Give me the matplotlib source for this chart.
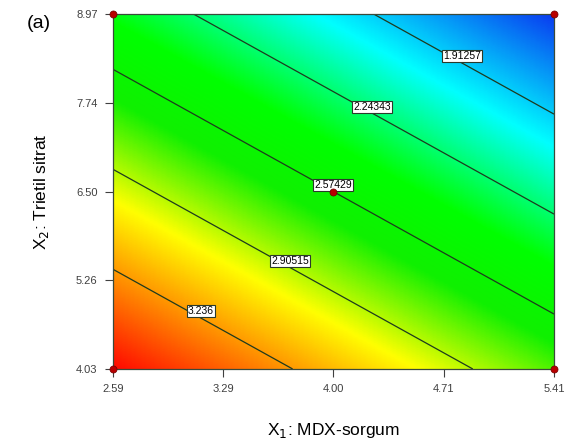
import numpy as np
import matplotlib
matplotlib.use("Agg")
import matplotlib.pyplot as plt
from matplotlib.colors import LinearSegmentedColormap

# factor ranges (actual units)
x1_range = [2.59, 5.41]   # MDX-sorgum
x2_range = [4.03, 8.97]   # Trietil sitrat
x1_ticks = [2.59, 3.295, 4.00, 4.705, 5.41]
x1_ticklabels = ["2.59", "3.29", "4.00", "4.71", "5.41"]
x2_ticks = [4.03, 5.265, 6.50, 7.735, 8.97]
x2_ticklabels = ["4.03", "5.26", "6.50", "7.74", "8.97"]

# linear model in coded units
b0 = 2.574
b1 = -0.405
b2 = -0.587

levels = [1.91257, 2.24343, 2.57429, 2.90515, 3.236]
level_labels = ["1.91257", "2.24343", "2.57429", "2.90515", "3.236"]
# where the labels sit on each line
label_x1 = [4.822, 4.246, 3.997, 3.722, 3.153]
label_x2 = [8.386, 7.676, 6.591, 5.533, 4.837]

# design points
pts_x1 = [2.59, 2.59, 5.41, 5.41, 4.00]
pts_x2 = [4.03, 8.97, 4.03, 8.97, 6.50]


def coded(v, rng):
    mid = (rng[0] + rng[1]) / 2.0
    half = (rng[1] - rng[0]) / 2.0
    return (v - mid) / half


def response(a, b):
    return b0 + b1 * coded(a, x1_range) + b2 * coded(b, x2_range)


cmap = LinearSegmentedColormap.from_list(
    "de", [(0.0, "#0a3cf0"), (0.22, "#00ffff"), (0.42, "#00ff00"), (0.55, "#10f000"),
           (0.72, "#ffff00"), (1.0, "#ff0a00")])

gx = np.linspace(x1_range[0], x1_range[1], 300)
gy = np.linspace(x2_range[0], x2_range[1], 300)
GX, GY = np.meshgrid(gx, gy)
Z = response(GX, GY)

fig = plt.figure(figsize=(5.85, 4.44), dpi=100)
ax = fig.add_axes([0.193, 0.169, 0.754, 0.799])

ax.imshow(Z, origin="lower", extent=[x1_range[0], x1_range[1], x2_range[0], x2_range[1]],
          aspect="auto", cmap=cmap, interpolation="bilinear")
ax.contour(GX, GY, Z, levels=levels, colors="#1e3a1e", linewidths=0.9)

for lx, ly, txt in zip(label_x1, label_x2, level_labels):
    ax.text(lx, ly, txt, fontsize=7.5, ha="center", va="center", family="Liberation Sans",
            color="black", zorder=5,
            bbox=dict(boxstyle="square,pad=0.12", fc="white", ec="#2a3a2a", lw=0.8))

ax.scatter(pts_x1, pts_x2, s=26, color="#b80000", edgecolor="#700000", lw=0.5,
           zorder=6, clip_on=False)

ax.set_xlim(x1_range)
ax.set_ylim(x2_range)
ax.set_xticks(x1_ticks)
ax.set_xticklabels(x1_ticklabels)
ax.set_yticks(x2_ticks)
ax.set_yticklabels(x2_ticklabels)
ax.tick_params(direction="out", length=6, width=0.8, color="#404040",
               labelsize=8, labelcolor="#404040", pad=5)
for lbl in ax.get_xticklabels() + ax.get_yticklabels():
    lbl.set_family("Liberation Sans")
for sp in ax.spines.values():
    sp.set_color("#3a4a3a")
    sp.set_linewidth(0.9)

ax.set_xlabel("X$_1$: MDX-sorgum", fontsize=12.5, family="Liberation Sans", labelpad=19)
ax.set_ylabel("X$_2$: Trietil sitrat", fontsize=12.5, family="Liberation Sans", labelpad=18)
fig.text(0.067, 0.946, "(a)", fontsize=14, family="Liberation Sans", ha="center", va="center")

fig.savefig("out.png", dpi=100)
